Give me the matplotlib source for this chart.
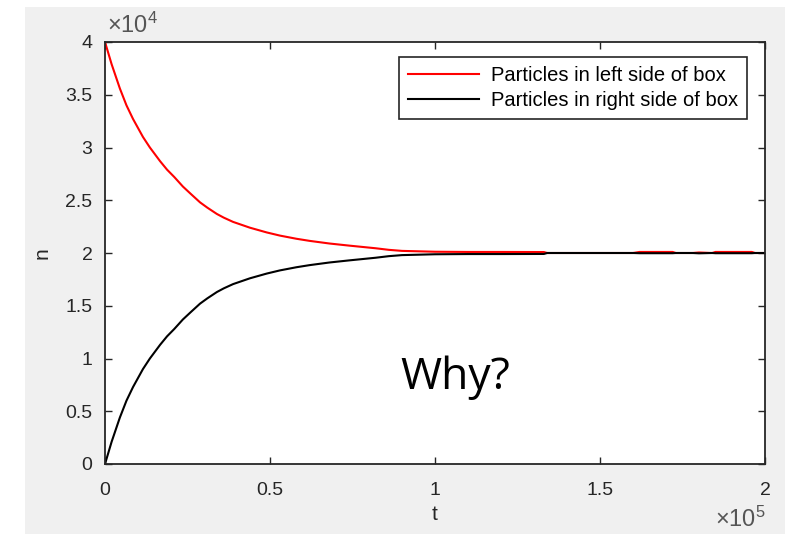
import numpy as np
import matplotlib.pyplot as plt
from matplotlib.patches import Rectangle

plt.rcParams['font.family'] = ['Liberation Sans', 'DejaVu Sans']
plt.rcParams['mathtext.default'] = 'regular'

# time steps
t = [0, 2000, 4500, 6500, 8500, 11500, 13600, 16700, 18800, 21000, 23600, 26000,
     28800, 31000, 33900, 36000, 38800, 43900, 49000, 53000, 58000, 62000, 68000,
     74000, 82000, 86000, 90000, 100000, 110000, 120000, 133000, 134000, 140000,
     150000, 160000, 162000, 172000, 173000, 178000, 180000, 184000, 185000,
     196000, 197000, 200000]

# particles in the left half of the box
n_left = [40000, 37900, 35600, 34000, 32700, 31000, 30000, 28700, 27900, 27200,
          26300, 25600, 24800, 24300, 23700, 23350, 22950, 22400, 21950, 21650,
          21350, 21150, 20900, 20700, 20450, 20300, 20200, 20120, 20100, 20100,
          20090, 20000, 20000, 20000, 20000, 20100, 20100, 20000, 20000, 20050,
          20000, 20100, 20100, 20000, 20000]

# particles in the right half of the box
n_right = [0, 2100, 4400, 6000, 7300, 9000, 10000, 11300, 12100, 12800, 13700,
           14400, 15200, 15700, 16300, 16650, 17050, 17600, 18050, 18350, 18650,
           18850, 19100, 19300, 19550, 19700, 19800, 19880, 19900, 19900, 19910,
           20000, 20000, 20000, 20000, 19980, 19980, 20000, 20000, 19970, 20000,
           19980, 19980, 20000, 20000]

xticks = [0, 50000, 100000, 150000, 200000]
xticklabels = ['0', '0.5', '1', '1.5', '2']
yticks = [0, 5000, 10000, 15000, 20000, 25000, 30000, 35000, 40000]
yticklabels = ['0', '0.5', '1', '1.5', '2', '2.5', '3', '3.5', '4']

W, H = 785, 534
fig = plt.figure(figsize=(W / 100, H / 100), dpi=100)
fig.patch.set_facecolor('white')
fig.patches.append(Rectangle((25 / W, 0), 760 / W, 527 / H, transform=fig.transFigure,
                             facecolor='#f0f0f0', edgecolor='none', zorder=-10))

ax = fig.add_axes([105 / W, 70 / H, 660 / W, 422 / H])
ax.plot(t, n_left, color='red', lw=1.5, label='Particles in left side of box')
ax.plot(t, n_right, color='black', lw=1.5, label='Particles in right side of box')

ax.set_xlim(0, 200000)
ax.set_ylim(0, 40000)
ax.set_xticks(xticks)
ax.set_xticklabels(xticklabels)
ax.set_yticks(yticks)
ax.set_yticklabels(yticklabels)
ax.tick_params(direction='in', top=True, right=True, length=5, width=1,
               labelsize=14, colors='#262626')
ax.tick_params(axis='x', pad=13)
ax.tick_params(axis='y', pad=9)
for s in ax.spines.values():
    s.set_color('#262626')
    s.set_linewidth(1.3)

ax.text(0.003, 1.01, r'$\times$10$^{4}$', transform=ax.transAxes, fontsize=17,
        color='#555555', ha='left', va='bottom')
fig.text(766 / W, 1 - 532 / H, r'$\times$10$^{5}$', fontsize=17, color='#555555',
         ha='right', va='bottom')
fig.text(42 / W, 1 - 253 / H, 'n', rotation=90, fontsize=15, color='#262626',
         ha='center', va='center')
fig.text(435 / W, 1 - 515 / H, 't', fontsize=15, color='#262626',
         ha='center', va='center')

leg = ax.legend(loc='upper right', bbox_to_anchor=((747 - 105) / 660, (464 - 57) / 422),
                borderaxespad=0, fontsize=14.5, fancybox=False, framealpha=1,
                edgecolor='#262626', handlelength=3.5, borderpad=0.45,
                labelspacing=0.3, handletextpad=0.6)
leg.get_frame().set_linewidth(1.2)

ax.text(106000, 8150, 'Why?', fontsize=32, family=['Open Sans', 'DejaVu Sans'],
        ha='center', va='center', color='black')

fig.savefig('out.png', dpi=100)
